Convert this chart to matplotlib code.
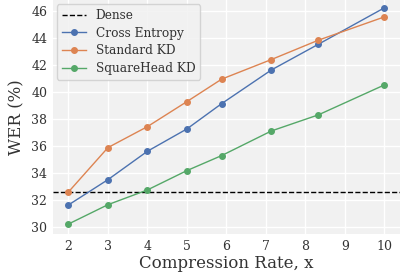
import matplotlib
matplotlib.use("Agg")
import matplotlib.pyplot as plt

compression = [2, 3, 4, 5, 5.88, 7.14, 8.33, 10]
xticks = [2, 3, 4, 5, 6, 7, 8, 9, 10]
yticks = [30, 32, 34, 36, 38, 40, 42, 44, 46]
dense = 32.6
cross_entropy = [31.65, 33.52, 35.62, 37.27, 39.14, 41.63, 43.53, 46.22]
standard_kd = [32.61, 35.89, 37.44, 39.29, 40.95, 42.40, 43.83, 45.55]
squarehead_kd = [30.24, 31.67, 32.76, 34.19, 35.30, 37.12, 38.31, 40.52]

plt.rcParams['font.family'] = ['DejaVu Serif']

fig = plt.figure(figsize=(4.04, 2.75), dpi=100)
ax = fig.add_axes([0.1304, 0.149, 0.86, 0.851])
ax.set_facecolor('#f1f1f1')
for s in ax.spines.values():
    s.set_visible(False)
ax.grid(True, color='white', linewidth=1.0)
ax.set_axisbelow(True)

ax.axhline(dense, color='black', linestyle='--', linewidth=1.0, label='Dense')
ax.plot(compression, cross_entropy, color='#4C72B0', marker='o', markersize=4, linewidth=1.0, label='Cross Entropy')
ax.plot(compression, standard_kd, color='#DD8452', marker='o', markersize=4, linewidth=1.0, label='Standard KD')
ax.plot(compression, squarehead_kd, color='#55A868', marker='o', markersize=4, linewidth=1.0, label='SquareHead KD')

ax.set_xticks(xticks)
ax.set_yticks(yticks)
ax.set_xlim(1.6, 10.4)
ax.set_ylim(29.5, 46.8)
ax.tick_params(axis='both', length=0, labelsize=9, colors='#333333', pad=4)
ax.set_xlabel('Compression Rate, x', fontsize=12, color='#333333', labelpad=2)
ax.set_ylabel('WER (%)', fontsize=12, color='#333333', labelpad=4)

leg = ax.legend(loc='upper left', prop={'size': 8.7}, frameon=True, facecolor='#f1f1f1',
                edgecolor='#cccccc', borderpad=0.4, handlelength=2.0, labelspacing=0.38,
                borderaxespad=0.35)
for t in leg.get_texts():
    t.set_color('#333333')

fig.savefig('out.png', dpi=100)
